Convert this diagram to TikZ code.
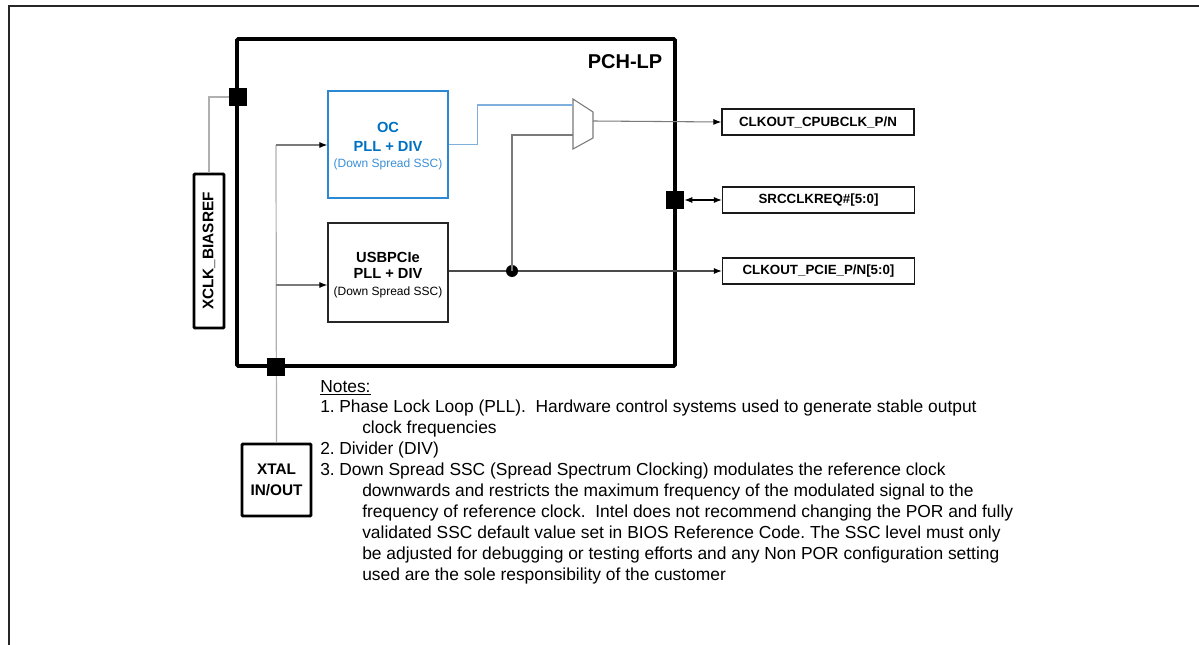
\documentclass[tikz,border=0pt]{standalone}
\usepackage{fontspec}
\usepackage{graphicx}
\setmainfont{Liberation Sans}
\usetikzlibrary{arrows.meta}
\definecolor{ocblue}{HTML}{0070C0}
\definecolor{ocedge}{HTML}{2B88D2}
\definecolor{ocsub}{HTML}{3A8FD6}
\definecolor{ocwire}{HTML}{7EAFDD}
\definecolor{wirelt}{HTML}{B0B0B0}
\definecolor{wiremd}{HTML}{7A7A7A}
\definecolor{wiredk}{HTML}{4A4A4A}
\begin{document}
\begin{tikzpicture}[x=0.75pt,y=-0.75pt,
  frame/.style={draw=black!85,line width=1.1pt},
  chip/.style={draw=black,line width=2.8pt,rounded corners=1pt,minimum width=328.5pt,minimum height=245.25pt,inner sep=0pt},
  pad/.style={fill=black,draw=none,minimum size=13.5pt,inner sep=0pt},
  extbox/.style={draw=black,line width=2.2pt,rounded corners=0.8pt,inner sep=0pt,align=center,font=\fontsize{11.5}{15.75}\selectfont\bfseries},
  sigbox/.style={draw=black!90,line width=0.9pt,minimum width=144pt,minimum height=19.5pt,inner sep=0pt,font=\fontsize{10}{12}\selectfont\bfseries},
  pllbox/.style={draw=black!85,line width=0.9pt,minimum width=90pt,inner sep=0pt},
  plltext/.style={inner sep=0pt,align=center},
  junction/.style={circle,fill=black,draw=none,inner sep=0pt,minimum size=9pt},
  tip/.style={-{Latex[length=6pt,width=4.5pt,black]}},
  both/.style={{Latex[length=6pt,width=4.5pt,black]}-{Latex[length=6pt,width=4.5pt,black]}},
  note/.style={anchor=base west,inner sep=0pt,font=\fontsize{13.05}{15}\selectfont}
]
\useasboundingbox (0,0) rectangle (1199,645);

% page frame
\draw[frame] (1199,6) -- (9,6) -- (9,645);

% chip outline and name
\node[chip] (pch) at (456,202.5) {};
\node[font=\fontsize{15}{18}\selectfont\bfseries] (pchname) at (625,62) {PCH-LP};

% PLL blocks
\node[pllbox,draw=ocedge,minimum height=80.25pt] (oc) at (388,144.5) {};
\node[plltext,text=ocblue,font=\fontsize{11}{14.25}\selectfont\bfseries] (octxt) at (388,146.5)
  {OC\\PLL + DIV\\[-2.4pt]{\color{ocsub}\fontsize{9}{11}\selectfont\mdseries(Down Spread SSC)}};
\node[pllbox,minimum height=74.25pt] (usb) at (388,272.5) {};
\node[plltext,font=\fontsize{11}{12}\selectfont\bfseries] (usbtxt) at (388,275)
  {USBPCIe\\PLL + DIV\\[0.6pt]{\fontsize{9}{11}\selectfont\mdseries(Down Spread SSC)}};

% output mux
\draw[draw=wiremd,line width=0.8pt] (573,99) -- (593,112) -- (593,138) -- (573,149) -- cycle;
\coordinate (muxA) at (573,105);
\coordinate (muxB) at (573,135);
\coordinate (muxY) at (593,121);

% external signal boxes
\node[sigbox] (cpu) at (818,122) {CLKOUT\_CPUBCLK\_P/N};
\node[sigbox] (src) at (818.5,200) {SRCCLKREQ\#[5:0]};
\node[sigbox] (pcie) at (818.5,271) {CLKOUT\_PCIE\_P/N[5:0]};

\node[extbox,minimum width=22.5pt,minimum height=115.5pt] (xclk) at (209,251) {\rotatebox{90}{XCLK\_BIASREF}};
\node[extbox,minimum width=51.75pt,minimum height=54pt] (xtal) at (276.5,480) {XTAL\\IN/OUT};

% clock input distribution
\coordinate (vtop) at (276,145);
\coordinate (vmid) at (276,285);
\draw[wirelt,line width=0.9pt] (vtop) -- (xtal.north);
\draw[wiremd,line width=0.8pt,tip] (vtop) -- (oc.west |- vtop);
\draw[wiremd,line width=0.8pt,tip] (vmid) -- (usb.west |- vmid);

% bias reference pad
\node[pad] (padL) at (238,97) {};
\draw[wirelt,line width=0.9pt] (xclk.north) |- (padL.west);

% pads on the chip edge
\node[pad] (padB) at (276,366.5) {};
\node[pad] (padR) at (675,200) {};

% PLL outputs
\draw[ocwire,line width=0.9pt] (oc.east) -- ++(29,0) |- (muxA);
\draw[wiredk,line width=0.8pt,tip] (usb.east |- pcie.west) -- (pcie.west);
\node[junction] (jn) at (512,271) {};
\draw[wiremd,line width=0.8pt] (jn.center) |- (muxB);
\draw[wiremd,line width=0.8pt,tip] (muxY) -- (cpu.west);
\draw[black,line width=0.8pt,both] (padR.east) -- (src.west);

% notes
\node[note] (nh) at (320,392) {\underline{Notes:}};
\node[note] (n1a) at (320,412.9) {1.};
\node[note] (n1b) at (339,412.9) {Phase Lock Loop (PLL).\ \ Hardware control systems used to generate stable output};
\node[note] (n1c) at (362,433.8) {clock frequencies};
\node[note] (n2a) at (320,454.7) {2.};
\node[note] (n2b) at (339,454.7) {Divider (DIV)};
\node[note] (n3a) at (320,475.6) {3.};
\node[note] (n3b) at (339,475.6) {Down Spread SSC (Spread Spectrum Clocking) modulates the reference clock};
\node[note] (n3c) at (362,496.5) {downwards and restricts the maximum frequency of the modulated signal to the};
\node[note] (n3d) at (362,517.4) {frequency of reference clock.\ \ Intel does not recommend changing the POR and fully};
\node[note] (n3e) at (362,538.3) {validated SSC default value set in BIOS Reference Code.\ The SSC level must only};
\node[note] (n3f) at (362,559.2) {be adjusted for debugging or testing efforts and any Non POR configuration setting};
\node[note] (n3g) at (362,580.1) {used are the sole responsibility of the customer};
\end{tikzpicture}
\end{document}
